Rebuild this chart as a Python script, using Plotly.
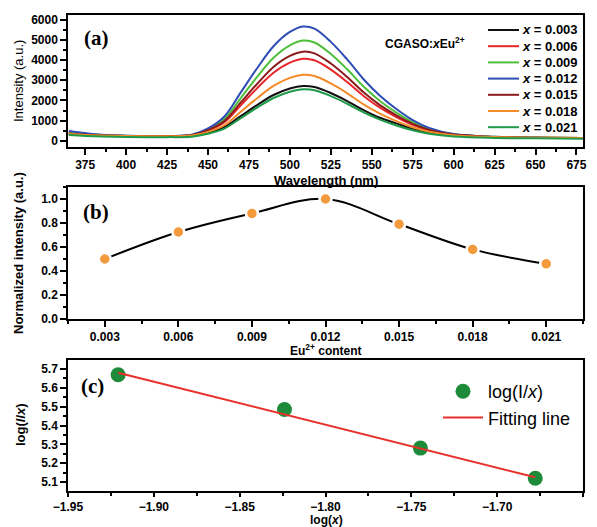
import plotly.graph_objects as go

# ---------------- data ----------------
wavelength = [365, 375, 385, 400, 425, 440, 450, 460, 470, 480, 490, 500, 508,
              515, 525, 535, 545, 555, 565, 575, 585, 600, 625, 650, 680]

int_x003 = [330, 290, 260, 240, 230, 255, 405, 675, 1220, 1770, 2270, 2595, 2720,
            2670, 2370, 1970, 1520, 1140, 860, 585, 405, 263, 183, 150, 130]
int_x006 = [350, 295, 260, 240, 230, 269, 500, 918, 1760, 2607, 3377, 3878, 4070,
            3993, 3531, 2915, 2222, 1640, 1173, 788, 513, 296, 189, 150, 130]
int_x009 = [400, 330, 280, 245, 235, 283, 563, 1080, 2120, 3165, 4115, 4733, 4970,
            4875, 4305, 3545, 2690, 1973, 1398, 923, 585, 319, 194, 150, 130]
int_x012 = [480, 380, 300, 250, 240, 295, 611, 1206, 2400, 3599, 4689, 5398, 5670,
            5561, 4907, 4035, 3054, 2232, 1573, 1028, 641, 336, 197, 150, 130]
int_x015 = [360, 300, 265, 240, 230, 272, 524, 981, 1900, 2824, 3664, 4210, 4420,
            4336, 3832, 3160, 2404, 1769, 1260, 840, 541, 305, 191, 150, 130]
int_x018 = [330, 285, 255, 235, 225, 256, 439, 769, 1440, 2111, 2721, 3118, 3270,
            3209, 2843, 2355, 1806, 1344, 973, 668, 449, 276, 185, 150, 130]
int_x021 = [280, 240, 210, 190, 180, 204, 347, 603, 1122, 1646, 2122, 2431, 2550,
            2502, 2217, 1836, 1408, 1046, 755, 517, 345, 210, 140, 120, 100]

series_names = ["0.003", "0.006", "0.009", "0.012", "0.015", "0.018", "0.021"]
series_values = [int_x003, int_x006, int_x009, int_x012, int_x015, int_x018, int_x021]
series_colors = ["#111111", "#E8262A", "#4DBF3A", "#2E4DB5", "#8B1A1A", "#F58B28", "#1E9A48"]

eu_content = [0.003, 0.006, 0.009, 0.012, 0.015, 0.018, 0.021]
norm_intensity = [0.50, 0.725, 0.88, 1.0, 0.79, 0.58, 0.46]

log_x = [-1.9208, -1.8239, -1.7447, -1.6778]
log_I_over_x = [5.67, 5.485, 5.28, 5.12]
fit_x = [-1.9208, -1.6778]
fit_y = [5.68, 5.125]

# ---------------- figure ----------------
FONT = "Liberation Sans, Arial, sans-serif"
SERIF = "Liberation Serif, Times New Roman, serif"
W, H = 597, 527


def px_x(p):
    return p / W


def px_y(p):
    return 1 - p / H


fig = go.Figure()

for name, vals, col in zip(series_names, series_values, series_colors):
    fig.add_trace(go.Scatter(
        x=wavelength, y=vals, mode="lines", line=dict(color=col, width=2, shape="spline"),
        name="<i>x</i> = " + name, xaxis="x", yaxis="y", showlegend=False))

fig.add_trace(go.Scatter(
    x=eu_content, y=norm_intensity, mode="lines+markers",
    line=dict(color="black", width=2, shape="spline", smoothing=1.0),
    marker=dict(color="#F39A3C", size=12, line=dict(color="white", width=2.5)),
    showlegend=False, xaxis="x2", yaxis="y2"))

fig.add_trace(go.Scatter(
    x=log_x, y=log_I_over_x, mode="markers",
    marker=dict(color="#1E8B3A", size=15),
    name="log(I/<i>x</i>)", xaxis="x3", yaxis="y3", legend="legend2"))
fig.add_trace(go.Scatter(
    x=fit_x, y=fit_y, mode="lines", line=dict(color="#E8302A", width=2),
    name="Fitting line", xaxis="x3", yaxis="y3", legend="legend2"))

common = dict(showline=True, linecolor="black", linewidth=1.5, mirror=True,
              ticks="outside", tickwidth=1.5, tickcolor="black",
              showgrid=False, zeroline=False, automargin=False,
              tickfont=dict(family=FONT, size=12, color="black", weight="bold"))

xdom = [px_x(68), px_x(583)]

fig.update_layout(
    width=W, height=H, margin=dict(l=0, r=0, t=0, b=0),
    paper_bgcolor="white", plot_bgcolor="white",
    font=dict(family=FONT, color="black"),
    hovermode=False,
    xaxis=dict(domain=xdom, anchor="y", range=[364.5, 679], tick0=375, dtick=25, ticklen=6,
               minor=dict(ticks="outside", ticklen=3, tickcolor="black", dtick=12.5, tick0=375),
               **common),
    yaxis=dict(domain=[px_y(147), px_y(15)], anchor="x", range=[-310, 6240], tick0=0, dtick=1000,
               ticklen=6,
               minor=dict(ticks="outside", ticklen=3, tickcolor="black", dtick=500, tick0=0),
               **common),
    xaxis2=dict(domain=xdom, anchor="y2", range=[0.0015, 0.0225], tick0=0.003, dtick=0.003,
                tickformat=".3f", ticklen=6,
                minor=dict(ticks="outside", ticklen=3, tickcolor="black", dtick=0.0015, tick0=0.003),
                **common),
    yaxis2=dict(domain=[px_y(319), px_y(187)], anchor="x2", range=[0, 1.1], tick0=0, dtick=0.2,
                tickformat=".1f", ticklen=6,
                minor=dict(ticks="outside", ticklen=3, tickcolor="black", dtick=0.1, tick0=0),
                **common),
    xaxis3=dict(domain=xdom, anchor="y3", range=[-1.95, -1.65], tick0=-1.95, dtick=0.05,
                tickformat=".2f", ticklen=4,
                minor=dict(ticks="outside", ticklen=3, tickcolor="black", dtick=0.025, tick0=-1.95),
                **common),
    yaxis3=dict(domain=[px_y(491), px_y(360)], anchor="x3", range=[5.052, 5.748], tick0=5.1, dtick=0.1,
                tickformat=".1f", ticklen=6,
                minor=dict(ticks="outside", ticklen=3, tickcolor="black", dtick=0.05, tick0=5.1),
                **common),
    legend2=dict(x=px_x(576), xanchor="right", y=px_y(373), yanchor="top",
                 bgcolor="rgba(0,0,0,0)", itemwidth=40, tracegroupgap=0,
                 font=dict(family=FONT, size=18, color="black")),
)

ann = []
shapes = []


def add_ann(text, x, y, size, angle=0, family=FONT, weight="bold", xanchor="center"):
    ann.append(dict(text=text, x=px_x(x), y=px_y(y), xref="paper", yref="paper",
                    showarrow=False, textangle=angle, xanchor=xanchor, yanchor="middle",
                    font=dict(family=family, size=size, color="black", weight=weight)))


add_ann("Intensity (a.u.)", 18, 81, 13, angle=-90, weight="normal")
add_ann("Wavelength (nm)", 326, 180, 13)
add_ann("Normalized intensity (a.u.)", 18, 253, 13, angle=-90)
add_ann("Eu<sup>2+</sup> content", 326, 350, 12)
add_ann("log(<i>I</i>/<i>x</i>)", 20, 425, 13, angle=-90)
add_ann("log(<i>x</i>)", 326, 520, 12)
add_ann("(a)", 96, 38, 21, family=SERIF)
add_ann("(b)", 96, 212, 21, family=SERIF)
add_ann("(c)", 92, 386, 21, family=SERIF)
add_ann("CGASO:<i>x</i>Eu<sup>2+</sup>", 425, 43, 12)

# legend of panel (a), compact rows as in the reference
for i, (name, col) in enumerate(zip(series_names, series_colors)):
    yc = 30 + 16.2 * i
    shapes.append(dict(type="line", xref="paper", yref="paper",
                       x0=px_x(488), x1=px_x(519), y0=px_y(yc), y1=px_y(yc),
                       line=dict(color=col, width=2)))
    add_ann("<i>x</i> = " + name, 520, yc, 13, xanchor="left")

fig.update_layout(annotations=ann, shapes=shapes)

fig.write_html("out.html", config={"displayModeBar": False},
               post_script="document.body.style.margin='0';")
